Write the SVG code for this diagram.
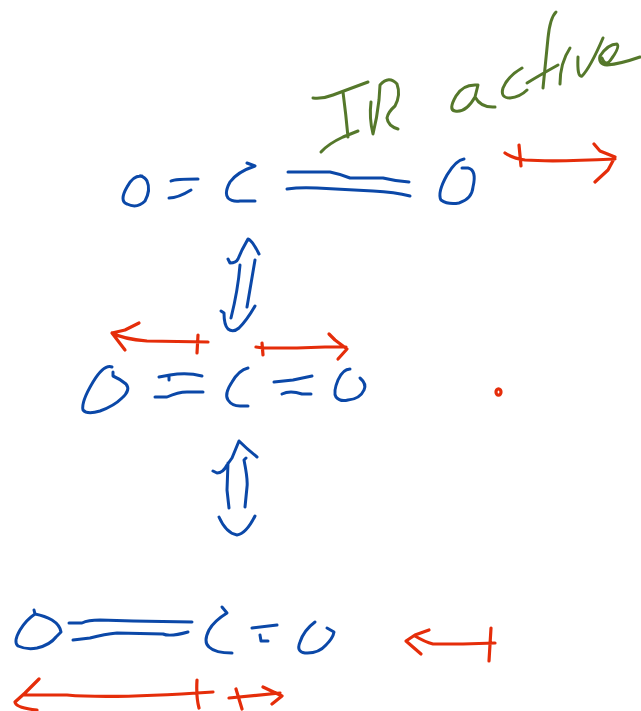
<svg xmlns="http://www.w3.org/2000/svg" width="641" height="711" viewBox="0 0 641 711">
<style>
path,ellipse{fill:none;stroke-linecap:round;stroke-linejoin:round}
.g path{stroke:#55782b;stroke-width:3}
.b path{stroke:#0b48a8;stroke-width:3}
.r path,.r ellipse{stroke:#e52d0a;stroke-width:3.2}
</style>
<rect width="641" height="711" fill="#fff"/>
<g id="label-ir-active" class="g">
<path d="M313 98Q323 99 333 95L368 82M343 92Q346 115 348 137M321 152Q328 144 343 137L358 131"/>
<path d="M371 102Q369 118 373 134Q377 118 379 100L380 85Q389 75 397 84Q401 95 395 106Q388 112 387 118Q388 126 398 129"/>
<path d="M477 85Q463 84 456 96Q448 110 455 111Q466 113 475 97L478 85M475 97Q481 108 495 107"/>
<path d="M522 68Q508 76 503 88Q500 98 510 98Q520 97 527 90"/>
<path d="M556 12Q550 18 548 38L543 88M527 83Q540 75 558 65"/>
<path d="M560 84Q560 63 570 48"/>
<path d="M578 57Q577 78 582 76Q590 68 603 38"/>
<path d="M602 58Q606 68 612 58Q620 47 617 44Q608 44 600 56Q598 64 607 65Q620 64 640 57"/>
</g>
<g id="molecule-top" class="b">
<path d="M142 176Q133 175 127 187Q119 201 127 204Q137 209 145 201Q151 190 147 181Q145 177 140 176"/>
<path d="M171 181Q175 179 198 179M169 198Q178 198 191 190"/>
<path d="M247 163L255 166Q237 172 230 182Q224 193 228 198Q232 202 240 201L255 201"/>
<path d="M288 172L330 172Q340 174 350 178L383 178Q395 181 409 182"/>
<path d="M287 189Q300 187 317 188L373 191Q395 192 410 196"/>
<path d="M464 159Q456 160 447 175Q437 193 441 200Q448 205 459 203Q472 199 473 187Q477 170 468 168L462 168"/>
</g>
<g id="molecule-middle" class="b">
<path d="M112 367Q104 364 93 382Q81 402 83 410Q87 415 100 411Q114 406 122 398Q131 390 126 384Q120 379 113 376L113 372"/>
<path d="M159 377L170 375Q187 372 202 376M169 376V380M155 397L167 397Q178 392 187 392L203 392"/>
<path d="M248 368Q239 370 232 382Q224 394 228 400Q232 406 240 406L248 406"/>
<path d="M274 382L293 380L312 376M282 394Q290 390 302 394L311 394"/>
<path d="M350 369Q343 369 338 380Q333 392 336 397Q340 402 348 400Q360 399 364 390Q367 384 360 378"/>
</g>
<g id="molecule-bottom" class="b">
<path d="M34 610L35 614Q26 620 20 630Q13 642 18 646Q27 650 37 648Q50 645 56 637L61 632Q60 625 52 620Q45 616 35 614"/>
<path d="M69 623L82 623Q88 620 100 620L133 621L192 622M73 640L90 638Q105 634 117 633L163 634Q170 637 188 632"/>
<path d="M222 607L227 613Q214 621 209 630Q203 642 209 647Q215 653 232 653"/>
<path d="M252 628L277 625M260 635L261 641L268 641"/>
<path d="M315 622Q304 630 300 642Q296 652 305 653Q318 654 326 645Q333 638 334 632L327 628"/>
</g>
<g id="connectors">
<g class="b">
<path d="M228 259L230 263Q236 263 238 259L242 250L248 239Q252 240 259 254M240 265Q238 290 231 318M255 260L247 307"/>
<path d="M221 311L224 313Q224 325 228 329Q233 333 239 328Q247 320 255 306"/>
<path d="M213 471L217 473Q223 473 227 465L232 458L239 441Q247 449 257 457M228 463L227 490L229 508M246 458L244 460Q248 480 247 487L245 507"/>
<path d="M219 517Q226 533 237 535Q246 534 255 516"/>
</g>
<g class="r">
<path d="M505 153Q512 158 525 160Q553 162 615 159M519 145L521 166M594 144L600 151L615 157L608 170L595 182"/>
<path d="M139 323L125 330L112 333L125 350M112 333Q123 339 147 341L208 342M198 335L197 353"/>
<path d="M256 347L263 348L297 348L325 347L346 347M262 343L263 355M329 334L335 340L347 349L338 359"/>
<path d="M39 679L25 693L15 702Q16 708 37 710M25 695L67 695Q110 699 213 692M197 680Q196 697 199 708"/>
<path d="M229 698L280 693M236 689L242 709M263 687L282 696L272 704"/>
<path d="M429 630L415 635L406 641L421 654M415 636Q425 642 433 644L463 644L495 643M491 628L489 661"/>
<ellipse cx="498.500" cy="392" rx="2.500" ry="3.200"/>
</g>
</g>
</svg>
